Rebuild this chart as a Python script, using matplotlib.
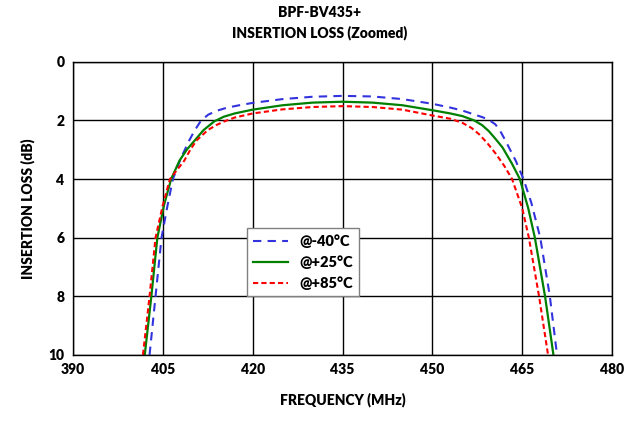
import matplotlib
matplotlib.use('Agg')
import matplotlib.pyplot as plt

plt.rcParams['font.family'] = ['Lato', 'DejaVu Sans']
plt.rcParams['font.weight'] = 'heavy'

# -40 C
freq_m40 = [402.8, 403.8, 404.8, 405.8, 406.7, 408.0, 409.4, 410.3, 411.4, 412.6, 414.0, 415.6,
            417.5, 420.0, 425.0, 430.0, 435.0, 440.0, 445.0, 450.0, 453.0, 455.0, 456.9,
            458.4, 459.5, 460.5, 461.3, 462.2, 463.9, 465.2, 466.5, 468.0, 469.6, 470.8]
loss_m40 = [10, 8, 6, 4.9, 4.0, 3.3, 2.69, 2.35, 2.0, 1.80, 1.67, 1.57,
            1.49, 1.40, 1.27, 1.19, 1.16, 1.18, 1.27, 1.43, 1.56, 1.66, 1.79,
            1.89, 1.99, 2.13, 2.35, 2.69, 3.37, 4.0, 4.8, 6, 8, 10]

# +25 C
freq_p25 = [402.0, 403.1, 404.1, 405.2, 406.4, 407.8, 409.0, 410.3, 411.8, 413.6, 415.2, 417.0,
            420.0, 425.0, 430.0, 435.0, 440.0, 445.0, 450.0, 453.0, 455.0, 457.0, 458.3,
            459.4, 460.5, 461.7, 463.3, 464.6, 466.0, 467.1, 468.8, 470.2]
loss_p25 = [10, 8, 6, 4.9, 4.0, 3.37, 3.0, 2.69, 2.33, 2.03, 1.87, 1.76,
            1.63, 1.48, 1.39, 1.36, 1.39, 1.48, 1.65, 1.76, 1.85, 2.0, 2.16,
            2.36, 2.62, 2.92, 3.48, 4.0, 5.0, 6, 8, 10]

# +85 C
freq_p85 = [401.7, 402.8, 403.8, 405.0, 406.2, 408.6, 409.6, 410.6, 412.5, 414.0, 415.3, 417.0,
            420.0, 425.0, 430.0, 435.0, 440.0, 445.0, 450.0, 453.0, 455.0, 456.5, 457.8,
            459.2, 460.6, 462.0, 463.3, 465.0, 466.1, 467.8, 469.3]
loss_p85 = [10, 8, 6, 4.9, 4.0, 3.37, 3.0, 2.69, 2.33, 2.15, 2.03, 1.90,
            1.76, 1.62, 1.54, 1.51, 1.54, 1.63, 1.83, 1.94, 2.08, 2.25, 2.47,
            2.78, 3.14, 3.55, 4.0, 5.0, 6, 8, 10]

x_ticks = [390, 405, 420, 435, 450, 465, 480]
y_ticks = [0, 2, 4, 6, 8, 10]

fig = plt.figure(figsize=(6.39, 4.21), dpi=100)
ax = fig.add_axes([0.114, 0.157, 0.844, 0.696])

ax.plot(freq_m40, loss_m40, color='#3333dd', lw=1.5, ls=(0, (4, 3)), label='@-40°C')
ax.plot(freq_p25, loss_p25, color='#008000', lw=1.6, label='@+25°C')
ax.plot(freq_p85, loss_p85, color='#ff0000', lw=1.5, ls=(0, (2.5, 1.5)), label='@+85°C')

ax.set_xlim(390, 480)
ax.set_ylim(10, 0)
ax.set_xticks(x_ticks)
ax.set_yticks(y_ticks)
ax.grid(True, color='black', lw=1)
ax.tick_params(length=0, labelsize=10, pad=6)
for s in ax.spines.values():
    s.set_color('black')
    s.set_linewidth(1)

ax.set_xlabel('FREQUENCY (MHz)', fontsize=10, fontweight='heavy', labelpad=12)
ax.set_ylabel('INSERTION LOSS (dB)', fontsize=10, fontweight='heavy', labelpad=10)
fig.suptitle('BPF-BV435+\nINSERTION LOSS (Zoomed)', fontsize=10, fontweight='heavy',
             y=0.985, linespacing=1.5)

leg = ax.legend(loc='lower left', bbox_to_anchor=(0.31, 0.177), fontsize=10.5,
                fancybox=False, framealpha=1, edgecolor='#808080', handlelength=2.4)
leg.get_frame().set_linewidth(1)

fig.savefig('out.png', dpi=100)
